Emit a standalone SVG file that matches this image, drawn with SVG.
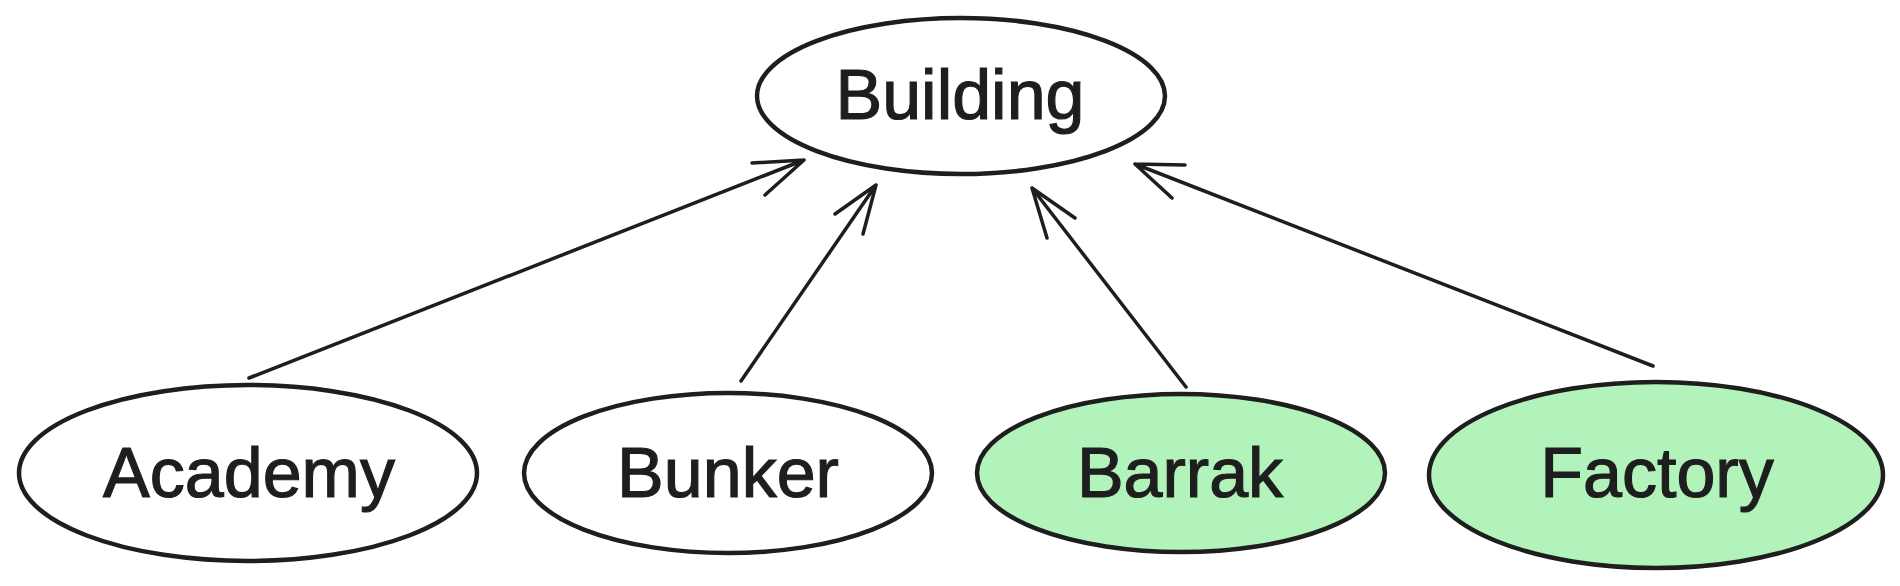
<svg xmlns="http://www.w3.org/2000/svg" width="1900" height="586" viewBox="0 0 1900 586">
  <style>
    .node { stroke: #1e1e1e; stroke-width: 4.5; }
    .plain { fill: #ffffff; }
    .green { fill: #b2f2bb; }
    .label { font-family: "Liberation Sans", "DejaVu Sans", sans-serif; font-size: 70px; fill: #1e1e1e; stroke: #1e1e1e; stroke-width: 1.2; text-anchor: middle; }
    .edge { stroke: #1e1e1e; stroke-width: 3.5; fill: none; stroke-linecap: round; stroke-linejoin: round; }
  </style>
  <rect width="1900" height="586" fill="#ffffff"/>
  <g id="connectors">
    <path class="edge" d="M249,378 L804,160 M752,163 L804,160 L765,195"/>
    <path class="edge" d="M741,381 L876,185 M835,214 L876,185 L863,234"/>
    <path class="edge" d="M1186,387 L1032,188 M1075,218 L1032,188 L1047,238"/>
    <path class="edge" d="M1653,366 L1135,164 M1185,165 L1135,164 L1172,198"/>
  </g>
  <g id="building">
    <ellipse class="node plain" cx="961" cy="96" rx="204" ry="78"/>
    <text class="label" x="960" y="119">Building</text>
  </g>
  <g id="academy">
    <ellipse class="node plain" cx="248" cy="473" rx="229" ry="88"/>
    <text class="label" x="249" y="497">Academy</text>
  </g>
  <g id="bunker">
    <ellipse class="node plain" cx="728" cy="473" rx="204" ry="80"/>
    <text class="label" x="728" y="497">Bunker</text>
  </g>
  <g id="barrak">
    <ellipse class="node green" cx="1181" cy="473" rx="204" ry="79"/>
    <text class="label" x="1180" y="497">Barrak</text>
  </g>
  <g id="factory">
    <ellipse class="node green" cx="1656" cy="475" rx="227" ry="93"/>
    <text class="label" x="1657" y="497">Factory</text>
  </g>
</svg>
